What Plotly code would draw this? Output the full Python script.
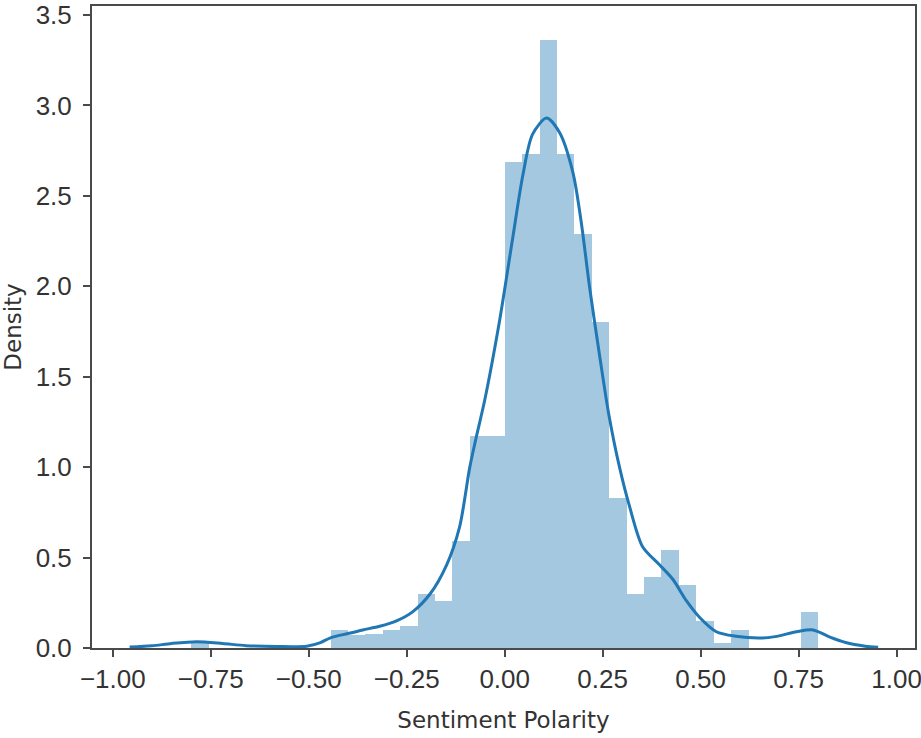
import numpy as np
import plotly.graph_objects as go

# histogram (density), 36 bins between the data min and max
bin_lo = -0.8
bin_hi = 0.8
densidad = [0.04, 0, 0, 0, 0, 0, 0, 0, 0.10, 0.07, 0.08, 0.10,
            0.12, 0.30, 0.26, 0.59, 1.17, 1.17, 2.69, 2.73, 3.36, 2.73, 2.29, 1.80,
            0.83, 0.30, 0.39, 0.54, 0.35, 0.15, 0.03, 0.10, 0, 0, 0, 0.20]

# kde curve
kde_x = [-0.957, -0.90, -0.85, -0.786, -0.72, -0.66, -0.58, -0.505, -0.47, -0.446,
         -0.40, -0.362, -0.319, -0.276, -0.235, -0.19, -0.148, -0.115, -0.089, -0.071,
         -0.051, -0.013, 0.02, 0.046, 0.071, 0.107, 0.14, 0.174, 0.195, 0.217,
         0.242, 0.265, 0.293, 0.319, 0.352, 0.395, 0.429, 0.464, 0.497, 0.54,
         0.59, 0.65, 0.69, 0.745, 0.787, 0.83, 0.87, 0.92, 0.953]
kde_y = [0.005, 0.012, 0.025, 0.035, 0.025, 0.013, 0.008, 0.01, 0.03, 0.055,
         0.08, 0.10, 0.12, 0.15, 0.20, 0.30, 0.46, 0.67, 1.0, 1.18,
         1.37, 1.81, 2.26, 2.61, 2.84, 2.93, 2.85, 2.63, 2.36, 1.99,
         1.62, 1.30, 1.0, 0.78, 0.56, 0.46, 0.38, 0.26, 0.17, 0.09,
         0.065, 0.055, 0.063, 0.09, 0.10, 0.06, 0.03, 0.01, 0.004]

x_ticks = [-1.0, -0.75, -0.5, -0.25, 0.0, 0.25, 0.5, 0.75, 1.0]
x_labels = ['\u22121.00', '\u22120.75', '\u22120.50', '\u22120.25', '0.00', '0.25', '0.50', '0.75', '1.00']
y_ticks = [0.0, 0.5, 1.0, 1.5, 2.0, 2.5, 3.0, 3.5]
y_labels = ['0.0', '0.5', '1.0', '1.5', '2.0', '2.5', '3.0', '3.5']

edges = np.linspace(bin_lo, bin_hi, len(densidad) + 1)
centros = (edges[:-1] + edges[1:]) / 2
ancho = edges[1] - edges[0]

azul = '#1f77b4'
gris = '#4a4a4a'
fuente_ticks = dict(family='Liberation Sans, sans-serif', size=26, color='#333333')
fuente_titulo = dict(family='DejaVu Sans, sans-serif', size=23, color='#333333')

fig = go.Figure()
fig.add_trace(go.Bar(x=centros, y=densidad, width=ancho,
                     marker=dict(color=azul, line=dict(width=0)), opacity=0.4))
fig.add_trace(go.Scatter(x=kde_x, y=kde_y, mode='lines',
                         line=dict(color=azul, width=3, shape='spline', smoothing=0.8)))

fig.update_layout(
    width=921, height=738,
    margin=dict(l=92, r=6, t=6, b=90),
    plot_bgcolor='white', paper_bgcolor='white',
    showlegend=False, bargap=0,
)
fig.update_xaxes(
    range=[-1.053, 1.047], tickvals=x_ticks, ticktext=x_labels, automargin=False,
    ticklabeloverflow='allow',
    showline=True, mirror=True, linecolor=gris, linewidth=2,
    ticks='outside', ticklen=7, tickwidth=2, tickcolor=gris,
    showgrid=False, zeroline=False, tickfont=fuente_ticks,
    title=dict(text='Sentiment Polarity', font=fuente_titulo, standoff=19),
)
fig.update_yaxes(
    range=[0, 3.55], tickvals=y_ticks, ticktext=y_labels, automargin=False,
    ticklabeloverflow='allow',
    showline=True, mirror=True, linecolor=gris, linewidth=2,
    ticks='outside', ticklen=7, tickwidth=2, tickcolor=gris,
    showgrid=False, zeroline=False, tickfont=fuente_ticks, ticklabelstandoff=6,
    title=dict(text='Density', font=fuente_titulo, standoff=8),
)

# quitar el margen por defecto del body para que el gráfico quede en (0, 0)
fig.write_html("out.html", config={'displayModeBar': False},
               post_script="document.body.style.margin='0';")
